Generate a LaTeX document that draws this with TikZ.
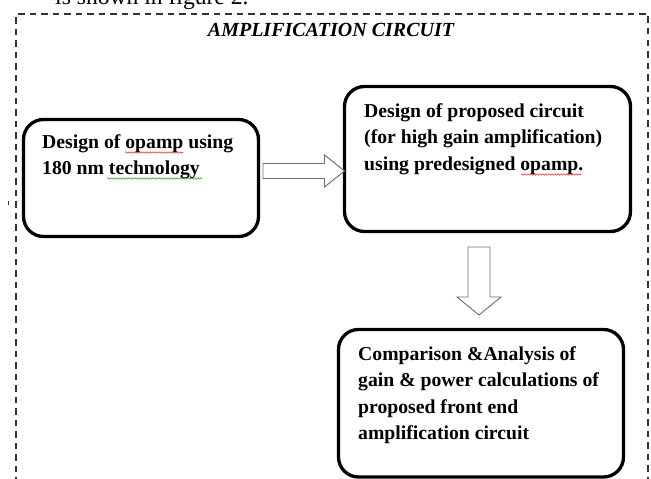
\documentclass[tikz,border=0pt]{standalone}
\usepackage{fontspec}
\setmainfont{Liberation Serif}
\usetikzlibrary{calc,decorations.pathmorphing}
\definecolor{arrowgray}{HTML}{6E6E6E}
\definecolor{spellred}{HTML}{E03030}
\definecolor{spellgreen}{HTML}{3C9A3C}
\tikzset{
  stagebox/.style={draw=black, line width=3.3pt, rounded corners=20pt,
    inner sep=0pt, outer sep=0pt, fill=white},
  stagetext/.style={anchor=north west, inner sep=0pt, align=left,
    font=\fontsize{19.7}{26.5}\selectfont\bfseries},
  blockarrow/.style={draw=arrowgray, line width=0.9pt, fill=white, line join=miter},
  framedash/.style={draw=black!80, line width=1.3pt, dash pattern=on 6.5pt off 5pt},
  spellwave/.style={line width=0.6pt, decorate,
    decoration={snake, amplitude=0.7pt, segment length=3pt}},
}
\begin{document}
\begin{tikzpicture}[x=1pt,y=-1pt]
\useasboundingbox (0,0) rectangle (651,479);
\begin{scope}
\clip (0,0) rectangle (651,479);

% running text above the figure frame
\node[anchor=base west, inner sep=0pt, font=\fontsize{23.6}{28}\selectfont] (caption) at (55,4.5) {is shown in figure 2.};

% dashed frame around the block diagram
\draw[framedash] (16,495) -- (16,14) -- (648,14) -- (648,495);
\fill[black!80] (7.6,201) rectangle (8.8,204.5);

% title
\node[anchor=base, inner sep=0pt, font=\fontsize{20}{24}\selectfont\bfseries\itshape] (title) at (331,36.5) {AMPLIFICATION CIRCUIT};

% stages
\node[stagebox, minimum width=235pt, minimum height=117pt] (b1) at (141,178) {};
\node[stagebox, minimum width=286pt, minimum height=145pt] (b2) at (487.5,159) {};
\node[stagebox, minimum width=285pt, minimum height=147.5pt] (b3) at (481,403.25) {};

\node[stagetext] (t1) at ($(b1.north west)+(18.5,9.95)$) {\strut Design of opamp using\\180 nm technology};
\node[stagetext] (t2) at ($(b2.north west)+(19.5,12)$) {\strut Design of proposed circuit\\(for high gain amplification)\\using predesigned opamp.};
\node[stagetext] (t3) at ($(b3.north west)+(19.5,12)$) {\strut Comparison \&Analysis of\\gain \& power calculations of\\proposed front end\\amplification circuit};

% spell-check marks
\draw[spellwave, spellred] (125,152.5) -- (183,152.5);
\draw[spellwave, spellgreen] (107,178.5) -- (202,178.5);
\draw[spellwave, spellred] (521,174.5) -- (581,174.5);

% block arrow: stage 1 -> stage 2
\coordinate (a1s) at ($(b1.east)+(4.5,-7)$);
\coordinate (a1t) at (b2.west |- a1s);
\draw[blockarrow] ($(a1s)+(0,-7.5)$) -- ($(a1t)+(-20,-7.5)$) -- ($(a1t)+(-20,-16)$)
  -- (a1t) -- ($(a1t)+(-20,16)$) -- ($(a1t)+(-20,7.5)$) -- ($(a1s)+(0,7.5)$) -- cycle;

% block arrow: stage 2 -> stage 3
\coordinate (a2s) at ($(b2.south)+(-8.5,15.5)$);
\coordinate (a2t) at ($(a2s |- b3.north)+(0,-14.5)$);
\draw[blockarrow] ($(a2s)+(-11,0)$) -- ($(a2t)+(-11,-18)$) -- ($(a2t)+(-22,-18)$)
  -- (a2t) -- ($(a2t)+(22,-18)$) -- ($(a2t)+(11,-18)$) -- ($(a2s)+(11,0)$) -- cycle;

\end{scope}
\end{tikzpicture}
\end{document}
